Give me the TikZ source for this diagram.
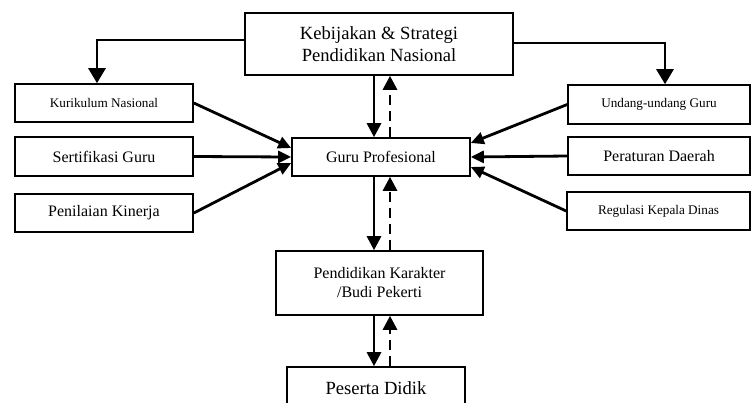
\documentclass[tikz,border=0pt]{standalone}
\usepackage{fontspec}
\setmainfont{Liberation Serif}
\usetikzlibrary{arrows.meta}
\tikzset{
  box/.style      = {shape=rectangle, draw, line width=1.6pt,
                     align=center, inner sep=0pt},
  bigbox/.style   = {box, font=\fontsize{18.6}{22}\selectfont},
  midbox/.style   = {box, font=\fontsize{16}{19}\selectfont},
  smallbox/.style = {box, font=\fontsize{13.2}{16}\selectfont},
  arr/.style      = {line width=2.8pt, -{Triangle[length=14pt,width=14pt]}},
  toparr/.style   = {line width=2.8pt, -{Triangle[length=15pt,width=17pt]}},
  back/.style     = {arr, dash pattern=on 10pt off 6pt},
  sidearr/.style  = {line width=2.8pt, -{Triangle[length=13pt,width=12pt]}}
}

\begin{document}
\begin{tikzpicture}[x=1pt,y=-1pt]
  \useasboundingbox (0,0) rectangle (751,402);

  \node [bigbox, minimum width=268pt, minimum height=62pt] (kebijakan) at (379,44)
    {Kebijakan \& Strategi\\Pendidikan Nasional};

  \node [smallbox, minimum width=178pt, minimum height=38pt] (kurikulum) at (104,103) {Kurikulum Nasional};
  \node [midbox, minimum width=178pt, minimum height=39pt] (sertifikasi) at (104,156.5) {Sertifikasi Guru};
  \node [midbox, minimum width=178pt, minimum height=38pt] (penilaian) at (104,213) {Penilaian Kinerja};

  \node [midbox, minimum width=178pt, minimum height=38pt] (guru) at (381,157) {Guru Profesional};

  \node [smallbox, minimum width=182pt, minimum height=39pt] (undang) at (659,104.5) {Undang-undang Guru};
  \node [midbox, minimum width=182pt, minimum height=38pt] (perda) at (659,156) {Peraturan Daerah};
  \node [smallbox, minimum width=183pt, minimum height=38pt] (regulasi) at (658.5,211) {Regulasi Kepala Dinas};

  \node [midbox, minimum width=207pt, minimum height=64pt] (karakter) at (379.5,283)
    {Pendidikan Karakter\\/Budi Pekerti};
  \node [bigbox, minimum width=178pt, minimum height=42pt] (peserta) at (376,388) {Peserta Didik};

  \coordinate (sl) at (374,0);
  \coordinate (dl) at (390,0);

  % from the top box
  \draw [toparr] ([yshift=4pt]kebijakan.west) -| ([xshift=-7pt]kurikulum.north);
  \draw [toparr] ([yshift=1pt]kebijakan.east) -| ([xshift=6pt]undang.north);

  % down the middle, and back up
  \draw [arr]  (kebijakan.south -| sl) -- (guru.north -| sl);
  \draw [back] (guru.north -| dl) -- (kebijakan.south -| dl);
  \draw [arr]  (guru.south -| sl) -- (karakter.north -| sl);
  \draw [back] (karakter.north -| dl) -- (guru.south -| dl);
  \draw [arr]  (karakter.south -| sl) -- (peserta.north -| sl);
  \draw [back] (peserta.north -| dl) -- (karakter.south -| dl);

  % into Guru Profesional
  \draw [sidearr] (kurikulum.east) -- ([yshift=9pt]guru.west);
  \draw [sidearr] (sertifikasi.east) -- (guru.west);
  \draw [sidearr] (penilaian.east) -- ([yshift=-6pt]guru.west);
  \draw [sidearr] (undang.west) -- ([yshift=14pt]guru.east);
  \draw [sidearr] (perda.west) -- (guru.east);
  \draw [sidearr] (regulasi.west) -- ([yshift=-10pt]guru.east);
\end{tikzpicture}
\end{document}
